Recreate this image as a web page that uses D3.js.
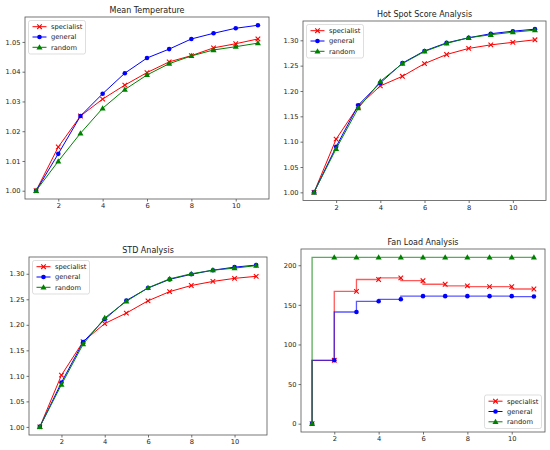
<!DOCTYPE html>
<html>
<head>
<meta charset="utf-8">
<script src="https://cdn.jsdelivr.net/npm/d3@7"></script>
<style>
  body { margin: 0; background: #fff; }
  text { font-family: "DejaVu Sans", sans-serif; fill: #222; }
</style>
</head>
<body>
<div class="chart"></div>
<script>
var steps = [1, 2, 3, 4, 5, 6, 7, 8, 9, 10, 11]
var seriesNames = ["specialist", "general", "random"]

// Mean Temperature
var meanSpecialist = [1.000, 1.0147, 1.0251, 1.0308, 1.0355, 1.0397, 1.0433, 1.0454, 1.0480, 1.0494, 1.0510]
var meanGeneral = [1.000, 1.0124, 1.0251, 1.0326, 1.0395, 1.0446, 1.0476, 1.0510, 1.0529, 1.0546, 1.0556]
var meanRandom = [1.000, 1.0099, 1.0193, 1.0277, 1.0340, 1.0389, 1.0427, 1.0453, 1.0473, 1.0484, 1.0496]

// Hot Spot Score
var hotSpecialist = [1.000, 1.105, 1.170, 1.210, 1.229, 1.254, 1.272, 1.284, 1.291, 1.296, 1.301]
var hotGeneral = [1.000, 1.090, 1.172, 1.216, 1.255, 1.279, 1.295, 1.305, 1.313, 1.318, 1.322]
var hotRandom = [1.000, 1.086, 1.166, 1.219, 1.254, 1.278, 1.294, 1.305, 1.311, 1.316, 1.320]

// STD
var stdSpecialist = [1.000, 1.1015, 1.167, 1.2024, 1.223, 1.247, 1.265, 1.277, 1.285, 1.291, 1.295]
var stdGeneral = [1.000, 1.087, 1.166, 1.211, 1.2476, 1.272, 1.289, 1.299, 1.307, 1.313, 1.317]
var stdRandom = [1.000, 1.083, 1.162, 1.2135, 1.246, 1.2725, 1.290, 1.300, 1.307, 1.311, 1.316]

// Fan Load
var fanSpecialist = [0, 80, 167, 182, 184, 180.5, 176, 174, 173, 173, 170]
var fanGeneral = [0, 80, 141, 154.5, 157, 161, 161, 161, 161, 161, 160.5]
var fanRandom = [0, 210, 210, 210, 210, 210, 210, 210, 210, 210, 210]

var xTicks = [2, 4, 6, 8, 10]
var meanTicks = [1.00, 1.01, 1.02, 1.03, 1.04, 1.05]
var scoreTicks = [1.00, 1.05, 1.10, 1.15, 1.20, 1.25, 1.30]
var fanTicks = [0, 50, 100, 150, 200]

var colors = ["#ff0000", "#0000ff", "#008000"]
var markers = ["x", "o", "^"]

var panels = [
    { title: "Mean Temperature", series: [meanSpecialist, meanGeneral, meanRandom], ticks: meanTicks,
      box: { l: 25, r: 269, t: 17, b: 199 }, legend: "tl", step: false },
    { title: "Hot Spot Score Analysis", series: [hotSpecialist, hotGeneral, hotRandom], ticks: scoreTicks,
      box: { l: 303, r: 546, t: 21, b: 200.5 }, legend: "tl", step: false },
    { title: "STD Analysis", series: [stdSpecialist, stdGeneral, stdRandom], ticks: scoreTicks,
      box: { l: 29, r: 267, t: 257, b: 435 }, legend: "tl", step: false },
    { title: "Fan Load Analysis", series: [fanSpecialist, fanGeneral, fanRandom], ticks: fanTicks,
      box: { l: 301, r: 545, t: 249, b: 432 }, legend: "br", step: true }
]

var svg = d3.select('.chart')
    .append('svg')
    .attr('width', 550)
    .attr('height', 450)

function drawMarker(sel, kind, color) {
    if (kind === "x") {
        sel.append('path')
            .attr('d', 'M-2.3,-2.3L2.3,2.3M-2.3,2.3L2.3,-2.3')
            .attr('stroke', color)
            .attr('stroke-width', 1.1)
            .attr('fill', 'none')
    } else if (kind === "o") {
        sel.append('circle')
            .attr('r', 2.3)
            .attr('fill', color)
    } else {
        sel.append('path')
            .attr('d', d3.symbol().type(d3.symbolTriangle).size(16)())
            .attr('transform', 'translate(0,0.4)')
            .attr('fill', color)
    }
}

panels.forEach(function (p) {
    var b = p.box
    var all = [].concat.apply([], p.series)
    var lo = d3.min(all), hi = d3.max(all), pad = (hi - lo) * 0.05

    var x = d3.scaleLinear().domain([0.5, 11.5]).range([b.l, b.r])
    var y = d3.scaleLinear().domain([lo - pad, hi + pad]).range([b.b, b.t])

    var g = svg.append('g')

    // axes
    var decimals = p.ticks[1] - p.ticks[0] < 1 ? 2 : 0
    g.append('g')
        .attr('transform', 'translate(0,' + b.b + ')')
        .call(d3.axisBottom(x).tickValues(xTicks).tickSize(2.5).tickPadding(2).tickFormat(d3.format('d')))
        .call(ax => ax.select('.domain').remove())
    g.append('g')
        .attr('transform', 'translate(' + b.l + ',0)')
        .call(d3.axisLeft(y).tickValues(p.ticks).tickSize(2.5).tickPadding(2).tickFormat(d3.format('.' + decimals + 'f')))
        .call(ax => ax.select('.domain').remove())
    g.selectAll('.tick line').attr('stroke', '#333').attr('stroke-width', 0.7)
    g.selectAll('.tick text').style('font-size', '6.7px').style('font-family', '"DejaVu Sans", sans-serif').attr('fill', '#222')

    // lines and markers
    var line = d3.line()
        .x((d, i) => x(steps[i]))
        .y(d => y(d))
    if (p.step) line.curve(d3.curveStepBefore)

    p.series.forEach(function (vals, k) {
        g.append('path')
            .datum(vals)
            .attr('d', line)
            .attr('fill', 'none')
            .attr('stroke', colors[k])
            .attr('stroke-width', p.step ? 1.3 : 1)
            .attr('stroke-opacity', p.step ? 0.65 : 1)
        g.selectAll('.m' + k)
            .data(vals)
            .enter()
            .append('g')
            .attr('class', 'm' + k)
            .attr('transform', (d, i) => 'translate(' + x(steps[i]) + ',' + y(d) + ')')
            .each(function () { drawMarker(d3.select(this), markers[k], colors[k]) })
    })

    // frame
    g.append('rect')
        .attr('x', b.l).attr('y', b.t)
        .attr('width', b.r - b.l).attr('height', b.b - b.t)
        .attr('fill', 'none')
        .attr('stroke', '#555')
        .attr('stroke-width', 0.8)

    g.append('text')
        .attr('x', (b.l + b.r) / 2)
        .attr('y', b.t - 4)
        .attr('text-anchor', 'middle')
        .style('font-size', '8px')
        .text(p.title)

    // legend
    var lw = 57, lh = 33.5
    var lx = p.legend === "tl" ? b.l + 3.5 : b.r - 3.5 - lw
    var ly = p.legend === "tl" ? b.t + 3.5 : b.b - 3.5 - lh
    var leg = g.append('g').attr('transform', 'translate(' + lx + ',' + ly + ')')
    leg.append('rect')
        .attr('width', lw).attr('height', lh).attr('rx', 2)
        .attr('fill', '#fff').attr('fill-opacity', 0.8)
        .attr('stroke', '#d0d0d0').attr('stroke-width', 0.7)
    seriesNames.forEach(function (name, k) {
        var row = leg.append('g').attr('transform', 'translate(0,' + (6.2 + k * 10.3) + ')')
        row.append('line')
            .attr('x1', 4).attr('x2', 18)
            .attr('stroke', colors[k]).attr('stroke-width', 1)
        drawMarker(row.append('g').attr('transform', 'translate(11,0)'), markers[k], colors[k])
        row.append('text')
            .attr('x', 22.5).attr('y', 2.4)
            .style('font-size', '6.7px')
            .text(name)
    })
})
</script>
</body>
</html>
